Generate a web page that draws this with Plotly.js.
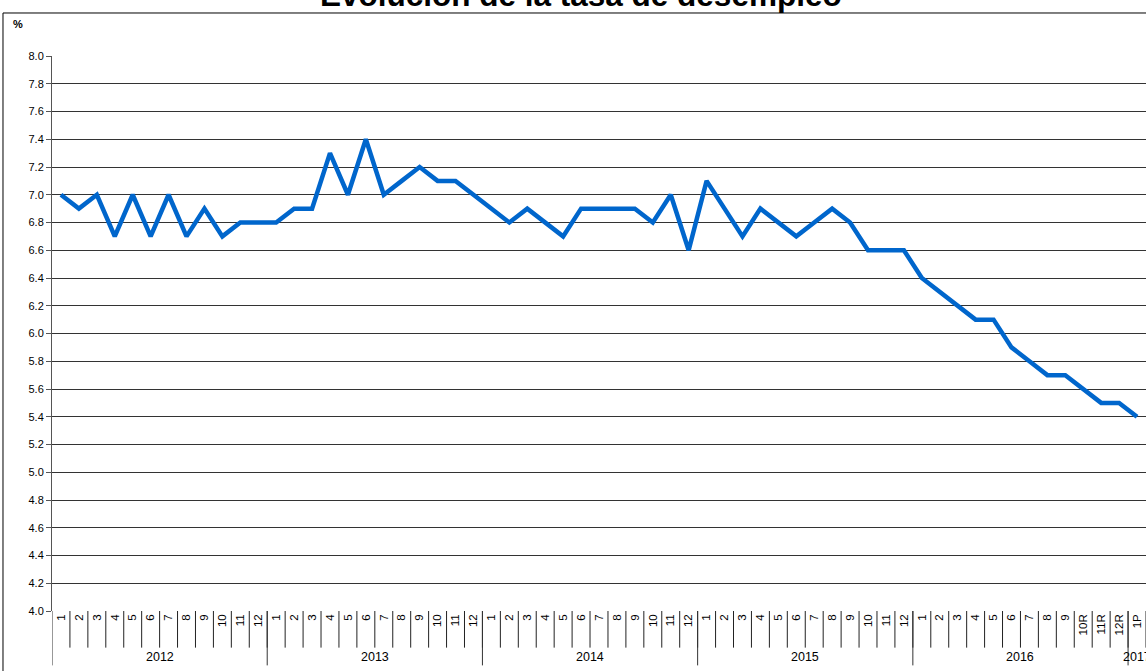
<!DOCTYPE html>
<html>
<head>
<meta charset="utf-8">
<script src="https://cdn.plot.ly/plotly-3.0.1.min.js"></script>
<style>html,body{margin:0;padding:0;background:#fff;}#chart{width:1146px;height:671px;}</style>
</head>
<body>
<div id="chart"></div>
<script>
const titleText = 'Evolución de la tasa de desempleo';
const monthLabels = [
  "1","2","3","4","5","6","7","8","9","10","11","12",
  "1","2","3","4","5","6","7","8","9","10","11","12",
  "1","2","3","4","5","6","7","8","9","10","11","12",
  "1","2","3","4","5","6","7","8","9","10","11","12",
  "1","2","3","4","5","6","7","8","9","10R","11R","12R",
  "1P"
];
const years = ["2012","2013","2014","2015","2016","2017"];
const yearMonths = [12,12,12,12,12,1];
const rate2012 = [7.0,6.9,7.0,6.7,7.0,6.7,7.0,6.7,6.9,6.7,6.8,6.8];
const rate2013 = [6.8,6.9,6.9,7.3,7.0,7.4,7.0,7.1,7.2,7.1,7.1,7.0];
const rate2014 = [6.9,6.8,6.9,6.8,6.7,6.9,6.9,6.9,6.9,6.8,7.0,6.6];
const rate2015 = [7.1,6.9,6.7,6.9,6.8,6.7,6.8,6.9,6.8,6.6,6.6,6.6];
const rate2016 = [6.4,6.3,6.2,6.1,6.1,5.9,5.8,5.7,5.7,5.6,5.5,5.5];
const rate2017 = [5.4];

const values = [].concat(rate2012, rate2013, rate2014, rate2015, rate2016, rate2017);
const xIdx = values.map((v,i)=>i);
const FONT = 'Liberation Sans, Arial, sans-serif';

const shapes = [];
for (let i = 0; i < monthLabels.length; i++) {
  shapes.push({type:'line', xref:'x', yref:'paper', x0:i+0.5, x1:i+0.5, y0:0, y1:-0.066,
    line:{color:'#222', width:1}});
}
let start = 0;
const yearAnn = [];
years.forEach((y, k) => {
  shapes.push({type:'line', xref:'x', yref:'paper', x0:start-0.5, x1:start-0.5, y0:0, y1:-0.098,
    line:{color:'#333', width:1}});
  yearAnn.push({x: start + (yearMonths[k]-1)/2, y:-0.083, xref:'x', yref:'paper', text:y,
    showarrow:false, font:{family:FONT, size:12.5, color:'#000'},
    xanchor:'center', yanchor:'middle'});
  start += yearMonths[k];
});
shapes.push({type:'rect', xref:'paper', yref:'paper', x0:-0.0448, x1:1.05, y0:-0.2, y1:1.0775,
  line:{color:'#000', width:1}, fillcolor:'rgba(0,0,0,0)'});

const trace = {
  x: xIdx, y: values, type:'scatter', mode:'lines',
  line:{color:'#0066CC', width:4.5}, hoverinfo:'skip'
};

const layout = {
  width:1146, height:671,
  margin:{l:52, r:0, t:56, b:60},
  paper_bgcolor:'#fff', plot_bgcolor:'#fff',
  showlegend:false,
  xaxis:{
    range:[-0.5, 60.5], tickvals:xIdx, ticktext:monthLabels, tickangle:-90,
    ticks:'', showgrid:false, zeroline:false, showline:false,
    tickfont:{family:FONT, size:11.5, color:'#000'},
    fixedrange:true
  },
  yaxis:{
    range:[4,8], dtick:0.2, tick0:4, tickformat:'.1f',
    showgrid:true, gridcolor:'#333', gridwidth:1,
    ticks:'outside', ticklen:5, tickcolor:'#555',
    showline:true, linecolor:'#555', linewidth:1, zeroline:false,
    tickfont:{family:FONT, size:11, color:'#000'},
    fixedrange:true
  },
  shapes: shapes,
  annotations: yearAnn.concat([
    {xref:'paper', yref:'paper', x:-0.031, y:1.058, text:'<b>%</b>', showarrow:false,
     font:{family:FONT, size:11, color:'#000'}, xanchor:'center', yanchor:'middle'},
    {xref:'paper', yref:'paper', x:0.484, y:1.110, text:'<b>' + titleText + '</b>', showarrow:false,
     font:{family:FONT, size:31.5, color:'#000'}, xanchor:'center', yanchor:'middle'}
  ])
};

Plotly.newPlot('chart', [trace], layout, {displayModeBar:false, staticPlot:true});
</script>
</body>
</html>
